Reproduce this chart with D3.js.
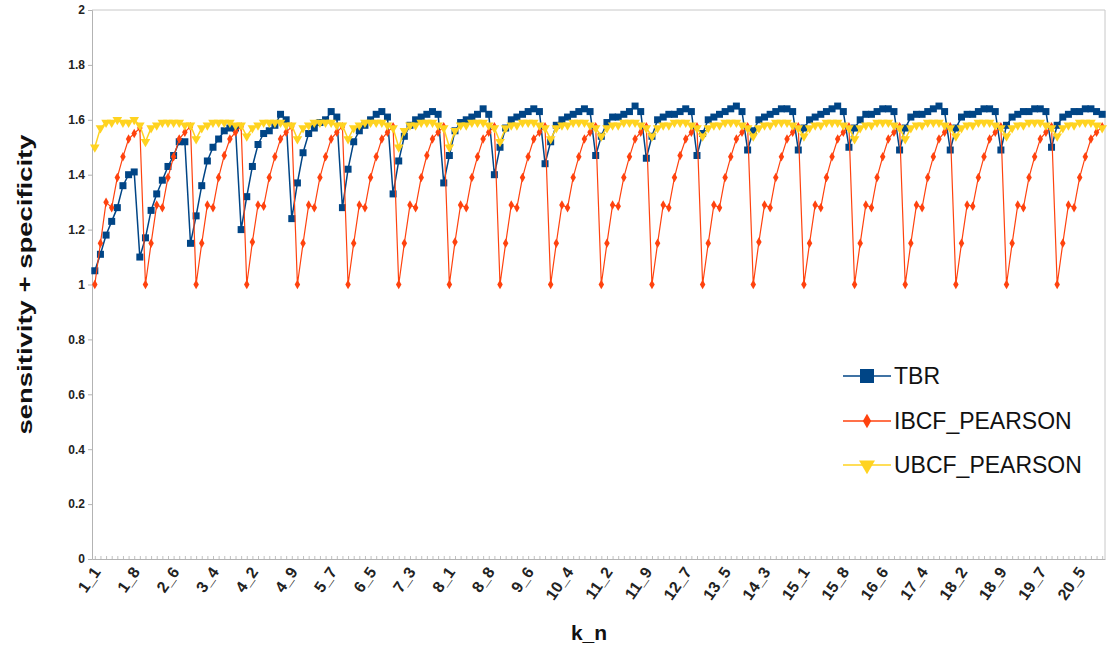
<!DOCTYPE html>
<html>
<head>
<meta charset="utf-8">
<title>sensitivity + specificity by k_n</title>
<script src="https://cdn.jsdelivr.net/npm/d3@7"></script>
<style>
body { margin: 0; background: #fff; }
text { font-family: "Liberation Sans", Arial, sans-serif; }
</style>
</head>
<body>
<script type="text/javascript">

// categories k_n, k = 1..20, n = 1..9
var kValues = [1, 2, 3, 4, 5, 6, 7, 8, 9, 10, 11, 12, 13, 14, 15, 16, 17, 18, 19, 20];
var nValues = [1, 2, 3, 4, 5, 6, 7, 8, 9];

var xTickLabels = ["1_1", "1_8", "2_6", "3_4", "4_2", "4_9", "5_7", "6_5", "7_3", "8_1",
  "8_8", "9_6", "10_4", "11_2", "11_9", "12_7", "13_5", "14_3", "15_1", "15_8", "16_6",
  "17_4", "18_2", "18_9", "19_7", "20_5"];

var yTicks = [0, 0.2, 0.4, 0.6, 0.8, 1, 1.2, 1.4, 1.6, 1.8, 2];

// one row per k, values for n = 1..9
var tbr = [
  [1.05, 1.11, 1.18, 1.23, 1.28, 1.36, 1.40, 1.41, 1.10],
  [1.17, 1.27, 1.33, 1.38, 1.43, 1.47, 1.52, 1.52, 1.15],
  [1.25, 1.36, 1.45, 1.50, 1.53, 1.56, 1.57, 1.57, 1.20],
  [1.32, 1.43, 1.51, 1.55, 1.56, 1.58, 1.62, 1.60, 1.24],
  [1.37, 1.48, 1.55, 1.57, 1.59, 1.60, 1.63, 1.61, 1.28],
  [1.42, 1.52, 1.56, 1.58, 1.60, 1.62, 1.63, 1.61, 1.33],
  [1.45, 1.54, 1.58, 1.60, 1.61, 1.62, 1.63, 1.62, 1.37],
  [1.47, 1.56, 1.59, 1.60, 1.61, 1.62, 1.64, 1.62, 1.40],
  [1.50, 1.57, 1.60, 1.61, 1.62, 1.63, 1.64, 1.63, 1.44],
  [1.52, 1.58, 1.60, 1.61, 1.62, 1.63, 1.64, 1.63, 1.47],
  [1.54, 1.59, 1.61, 1.61, 1.62, 1.63, 1.65, 1.63, 1.46],
  [1.54, 1.60, 1.61, 1.62, 1.62, 1.63, 1.64, 1.63, 1.47],
  [1.55, 1.60, 1.61, 1.62, 1.63, 1.64, 1.65, 1.63, 1.49],
  [1.56, 1.60, 1.61, 1.62, 1.63, 1.64, 1.64, 1.63, 1.49],
  [1.57, 1.60, 1.61, 1.62, 1.63, 1.64, 1.65, 1.63, 1.50],
  [1.57, 1.60, 1.62, 1.62, 1.63, 1.64, 1.64, 1.63, 1.49],
  [1.57, 1.61, 1.62, 1.62, 1.63, 1.64, 1.65, 1.63, 1.49],
  [1.57, 1.61, 1.62, 1.62, 1.63, 1.64, 1.64, 1.63, 1.49],
  [1.58, 1.61, 1.62, 1.63, 1.63, 1.64, 1.64, 1.63, 1.50],
  [1.58, 1.61, 1.62, 1.63, 1.63, 1.64, 1.64, 1.63, 1.62]
];

var ibcfPearson = [
  [1.00, 1.15, 1.30, 1.28, 1.39, 1.465, 1.53, 1.55, 1.57],
  [1.00, 1.15, 1.29, 1.28, 1.39, 1.465, 1.53, 1.555, 1.575],
  [1.00, 1.15, 1.29, 1.28, 1.39, 1.47, 1.53, 1.555, 1.575],
  [1.00, 1.155, 1.29, 1.285, 1.39, 1.465, 1.53, 1.555, 1.575],
  [1.00, 1.15, 1.29, 1.28, 1.39, 1.465, 1.53, 1.555, 1.575],
  [1.00, 1.15, 1.29, 1.28, 1.39, 1.465, 1.53, 1.555, 1.575],
  [1.00, 1.15, 1.29, 1.28, 1.39, 1.47, 1.53, 1.555, 1.575],
  [1.00, 1.155, 1.29, 1.28, 1.39, 1.465, 1.53, 1.555, 1.575],
  [1.00, 1.15, 1.29, 1.28, 1.39, 1.465, 1.53, 1.555, 1.575],
  [1.00, 1.15, 1.29, 1.28, 1.39, 1.465, 1.53, 1.555, 1.575],
  [1.00, 1.15, 1.29, 1.285, 1.39, 1.465, 1.53, 1.555, 1.575],
  [1.00, 1.15, 1.29, 1.28, 1.39, 1.47, 1.53, 1.555, 1.575],
  [1.00, 1.15, 1.29, 1.28, 1.39, 1.465, 1.53, 1.555, 1.575],
  [1.00, 1.155, 1.29, 1.28, 1.39, 1.465, 1.53, 1.555, 1.575],
  [1.00, 1.15, 1.29, 1.28, 1.39, 1.465, 1.53, 1.555, 1.575],
  [1.00, 1.15, 1.29, 1.28, 1.39, 1.465, 1.53, 1.555, 1.575],
  [1.00, 1.15, 1.29, 1.28, 1.39, 1.465, 1.53, 1.555, 1.575],
  [1.00, 1.15, 1.29, 1.285, 1.39, 1.465, 1.53, 1.555, 1.575],
  [1.00, 1.15, 1.29, 1.28, 1.39, 1.465, 1.53, 1.555, 1.575],
  [1.00, 1.15, 1.29, 1.28, 1.39, 1.465, 1.53, 1.555, 1.575]
];

var ubcfPearson = [
  [1.50, 1.57, 1.59, 1.59, 1.60, 1.59, 1.59, 1.60, 1.58],
  [1.52, 1.57, 1.58, 1.59, 1.59, 1.59, 1.59, 1.58, 1.58],
  [1.53, 1.57, 1.58, 1.59, 1.59, 1.59, 1.59, 1.58, 1.58],
  [1.54, 1.57, 1.58, 1.59, 1.59, 1.59, 1.59, 1.58, 1.58],
  [1.53, 1.57, 1.58, 1.59, 1.59, 1.59, 1.59, 1.58, 1.58],
  [1.53, 1.57, 1.58, 1.59, 1.59, 1.59, 1.59, 1.58, 1.57],
  [1.50, 1.56, 1.58, 1.58, 1.59, 1.59, 1.59, 1.58, 1.57],
  [1.50, 1.56, 1.58, 1.58, 1.59, 1.59, 1.59, 1.58, 1.57],
  [1.52, 1.57, 1.58, 1.58, 1.59, 1.59, 1.59, 1.58, 1.57],
  [1.53, 1.57, 1.58, 1.58, 1.59, 1.59, 1.59, 1.58, 1.57],
  [1.54, 1.57, 1.58, 1.58, 1.59, 1.59, 1.59, 1.58, 1.57],
  [1.54, 1.57, 1.58, 1.58, 1.59, 1.59, 1.59, 1.58, 1.57],
  [1.54, 1.57, 1.58, 1.58, 1.59, 1.59, 1.59, 1.58, 1.57],
  [1.54, 1.57, 1.58, 1.58, 1.59, 1.59, 1.59, 1.58, 1.57],
  [1.54, 1.57, 1.58, 1.58, 1.59, 1.59, 1.59, 1.58, 1.57],
  [1.53, 1.57, 1.58, 1.58, 1.59, 1.59, 1.59, 1.58, 1.57],
  [1.53, 1.57, 1.58, 1.58, 1.59, 1.59, 1.59, 1.58, 1.57],
  [1.54, 1.57, 1.58, 1.58, 1.59, 1.59, 1.59, 1.58, 1.57],
  [1.54, 1.57, 1.58, 1.58, 1.59, 1.59, 1.59, 1.58, 1.57],
  [1.54, 1.57, 1.58, 1.58, 1.59, 1.59, 1.59, 1.58, 1.57]
];

var seriesNames = ["TBR", "IBCF_PEARSON", "UBCF_PEARSON"];
var seriesColors = ["#004586", "#ff420e", "#ffd320"];

var categories = [];
kValues.forEach(function(k){
  nValues.forEach(function(n){
    categories.push(k + "_" + n);
  });
});

function toPoints(rows){
  var pts = [];
  rows.forEach(function(row, ki){
    row.forEach(function(v, ni){
      pts.push({cat: kValues[ki] + "_" + nValues[ni], v: v});
    });
  });
  return pts;
}

var allSeries = [toPoints(tbr), toPoints(ibcfPearson), toPoints(ubcfPearson)];

var width = 1108;
var height = 654;
var plotLeft = 92, plotRight = 1105, plotTop = 10, plotBottom = 559;

var svg = d3.select("body")
            .append("svg")
            .attr("width", width)
            .attr("height", height);

var x = d3.scalePoint()
          .domain(categories)
          .range([plotLeft, plotRight])
          .padding(0.5);

var y = d3.scaleLinear()
          .domain([0, 2])
          .range([plotBottom, plotTop]);

// frame
svg.append("path")
   .attr("d", "M" + plotLeft + "," + plotTop + "H" + plotRight + "V" + plotBottom)
   .attr("fill", "none")
   .attr("stroke", "#c8c8c8")
   .attr("stroke-width", 1);

// y axis
var yAxis = svg.append("g")
   .attr("transform", "translate(" + plotLeft + ",0)")
   .call(d3.axisLeft(y).tickValues(yTicks).tickFormat(d3.format("~g")).tickSize(4).tickPadding(3));
yAxis.select(".domain").attr("stroke", "#b3b3b3");
yAxis.selectAll(".tick line").attr("stroke", "#b3b3b3");
yAxis.selectAll(".tick text")
     .attr("fill", "#222")
     .style("font-size", "12px")
     .style("font-weight", "bold");

// x axis
var xAxis = svg.append("g")
   .attr("transform", "translate(0," + plotBottom + ")")
   .call(d3.axisBottom(x)
           .tickValues(categories)
           .tickSizeInner(-3)
           .tickSizeOuter(0)
           .tickFormat(function(d){ return xTickLabels.indexOf(d) >= 0 ? d : ""; }));
xAxis.select(".domain").attr("stroke", "#b3b3b3");
xAxis.selectAll(".tick line").attr("stroke", "#c0c0c0");
xAxis.selectAll(".tick text")
     .attr("fill", "#222")
     .attr("text-anchor", "end")
     .attr("dy", null)
     .attr("y", 0)
     .attr("transform", "translate(6,13) rotate(-55)")
     .style("font-size", "16px")
     .style("font-weight", "bold");

// axis titles
svg.append("text")
   .attr("transform", "translate(32," + (plotTop + plotBottom) / 2 + ") rotate(-90)")
   .attr("text-anchor", "middle")
   .attr("textLength", 300)
   .attr("lengthAdjust", "spacingAndGlyphs")
   .style("font-size", "20px")
   .style("font-weight", "bold")
   .attr("fill", "#111")
   .text("sensitivity + specificity");

svg.append("text")
   .attr("x", 589)
   .attr("y", 640)
   .attr("text-anchor", "middle")
   .style("font-size", "21px")
   .style("font-weight", "bold")
   .attr("fill", "#111")
   .text("k_n");

var line = d3.line()
             .x(function(d){ return x(d.cat); })
             .y(function(d){ return y(d.v); });

var lineWidths = [1.5, 1.2, 1.5];

function drawMarker(sel, i, color){
  if(i == 0){
    sel.append("rect")
       .attr("x", -3.5).attr("y", -3.5)
       .attr("width", 7).attr("height", 7)
       .attr("fill", color);
  } else if(i == 1){
    sel.append("path")
       .attr("d", d3.symbol().type(d3.symbolDiamond).size(26)())
       .attr("fill", color);
  } else {
    sel.append("path")
       .attr("d", d3.symbol().type(d3.symbolTriangle).size(40)())
       .attr("transform", "rotate(180)")
       .attr("fill", color);
  }
}

allSeries.forEach(function(pts, i){
  var g = svg.append("g");
  g.append("path")
   .datum(pts)
   .attr("d", line)
   .attr("fill", "none")
   .attr("stroke", seriesColors[i])
   .attr("stroke-width", lineWidths[i]);

  g.selectAll(".pt")
   .data(pts)
   .enter()
   .append("g")
   .attr("transform", function(d){ return "translate(" + x(d.cat) + "," + y(d.v) + ")"; })
   .each(function(){ drawMarker(d3.select(this), i, seriesColors[i]); });
});

// legend
var legendY = [376, 421, 465];
seriesNames.forEach(function(name, i){
  var lg = svg.append("g").attr("transform", "translate(843," + legendY[i] + ")");
  lg.append("line")
    .attr("x1", 0).attr("x2", 48)
    .attr("y1", 0).attr("y2", 0)
    .attr("stroke", seriesColors[i])
    .attr("stroke-width", 1.5);
  var m = lg.append("g").attr("transform", "translate(24,0)");
  if(i == 0){
    m.append("rect").attr("x", -7).attr("y", -7).attr("width", 14).attr("height", 14).attr("fill", seriesColors[i]);
  } else if(i == 1){
    m.append("path").attr("d", d3.symbol().type(d3.symbolDiamond).size(60)()).attr("fill", seriesColors[i]);
  } else {
    m.append("path").attr("d", d3.symbol().type(d3.symbolTriangle).size(110)())
     .attr("transform", "rotate(180)").attr("fill", seriesColors[i]);
  }
  lg.append("text")
    .attr("x", 51)
    .attr("y", 8)
    .style("font-size", "23px")
    .attr("fill", "#111")
    .text(name);
});

</script>
</body>
</html>
